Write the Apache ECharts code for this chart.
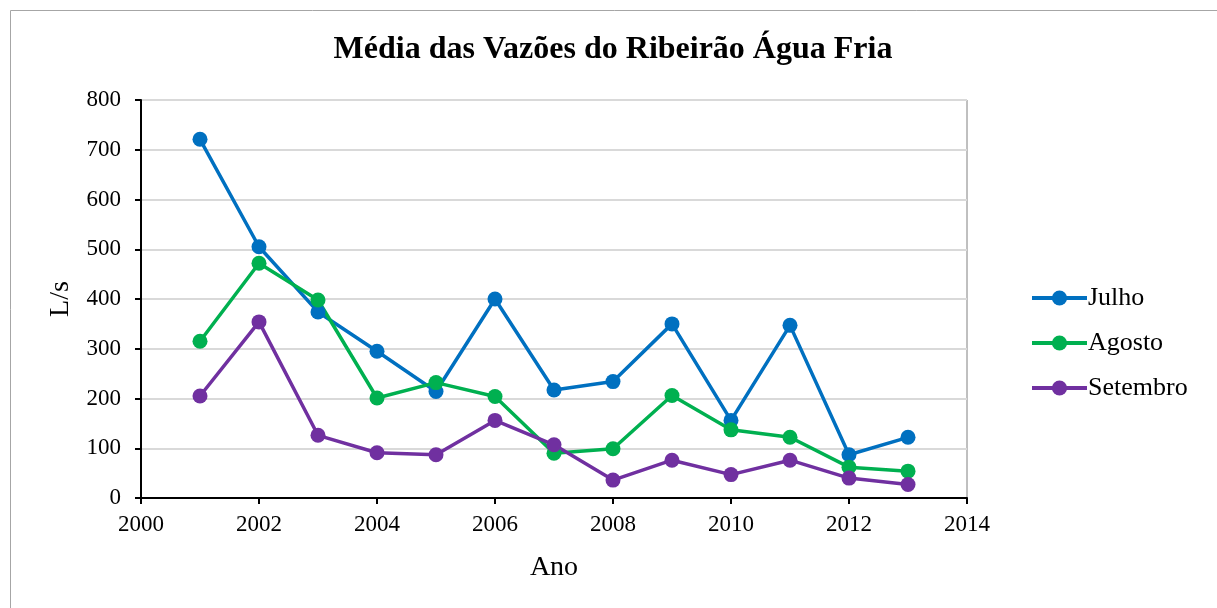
<!DOCTYPE html>
<html>
<head>
<meta charset="utf-8">
<script src="https://cdn.jsdelivr.net/npm/echarts@6/dist/echarts.min.js"></script>
<style>html,body{margin:0;padding:0;background:#fff}#c{width:1217px;height:608px}</style>
</head>
<body>
<div id="c"></div>
<script>
const years = [2001,2002,2003,2004,2005,2006,2007,2008,2009,2010,2011,2012,2013];
const julho = [721,505,374,295,214,400,217,234,350,156,347,87,122];
const agosto = [315,472,398,201,232,204,90,99,206,137,122,62,54];
const setembro = [205,354,126,91,87,156,107,36,76,47,76,40,27];
const seriesNames = ['Julho','Agosto','Setembro'];
const colors = ['#0070C0','#00B050','#7030A0'];

const font = '"Liberation Serif", "Times New Roman", serif';
const chart = echarts.init(document.getElementById('c'));
const mk = (name, vals, color) => ({
  name, type: 'line', data: years.map((y,i)=>[y, vals[i]]),
  symbol: 'circle', symbolSize: 15, showSymbol: true,
  lineStyle: {width: 3.5, color}, itemStyle: {color},
  emphasis: {disabled: true}, animation: false
});
chart.setOption({
  animation: false,
  textStyle: {fontFamily: font},
  title: {text: 'Média das Vazões do Ribeirão Água Fria', left: 608, textAlign: 'center', top: 29,
    textStyle: {fontFamily: font, fontSize: 32, fontWeight: 'bold', color: '#000'}},
  graphic: [{type: 'rect', shape: {x: 10.5, y: 10.5, width: 1300, height: 700}, style: {fill: null, stroke: '#a6a6a6', lineWidth: 1}, silent: true}],
  grid: {left: 141, right: 250, top: 100, bottom: 110, show: true, borderColor: '#808080', borderWidth: 1},
  legend: {orient: 'vertical', left: 1025, top: 280, itemWidth: 55, itemHeight: 19, itemGap: 19,
    lineStyle: {width: 4},
    data: seriesNames, textStyle: {fontFamily: font, fontSize: 26, color: '#000', padding: [0,0,0,-4]}},
  xAxis: {type: 'value', min: 2000, max: 2014, interval: 2, name: 'Ano', nameLocation: 'middle', nameGap: 56,
    nameTextStyle: {fontFamily: font, fontSize: 28, color: '#000'},
    axisLine: {show: true, lineStyle: {color: '#000', width: 2}},
    axisTick: {show: true, length: 6, lineStyle: {color: '#000', width: 2}},
    axisLabel: {fontFamily: font, fontSize: 23, color: '#000', margin: 15, formatter: v => String(v)},
    splitLine: {show: false}},
  yAxis: {type: 'value', min: 0, max: 800, interval: 100, name: 'L/s', nameLocation: 'middle', nameGap: 66,
    nameTextStyle: {fontFamily: font, fontSize: 28, color: '#000'},
    axisLine: {show: true, lineStyle: {color: '#000', width: 2}},
    axisTick: {show: true, length: 6, lineStyle: {color: '#000', width: 2}},
    axisLabel: {fontFamily: font, fontSize: 23, color: '#000', margin: 20},
    splitLine: {show: true, lineStyle: {color: '#d9d9d9', width: 2}}},
  series: [mk(seriesNames[0], julho, colors[0]), mk(seriesNames[1], agosto, colors[1]), mk(seriesNames[2], setembro, colors[2])]
});
</script>
</body>
</html>
